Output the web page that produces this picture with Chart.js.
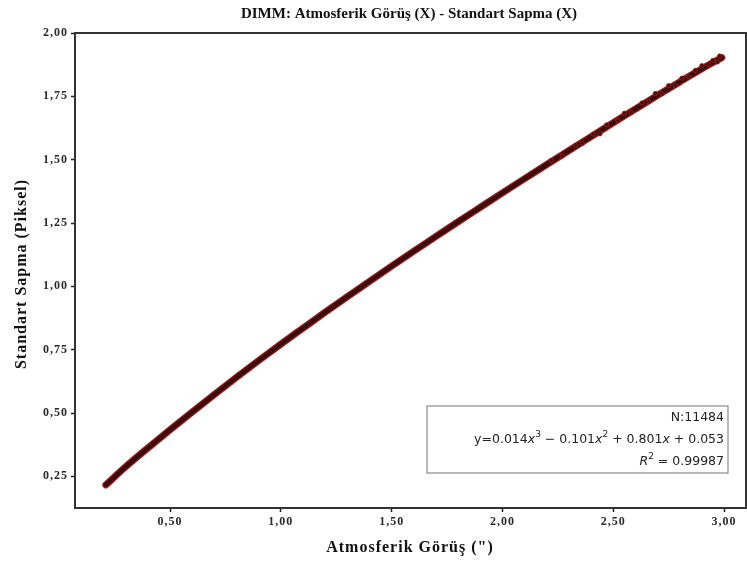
<!DOCTYPE html>
<html>
<head>
<meta charset="utf-8">
<script src="https://cdn.jsdelivr.net/npm/chart.js@4/dist/chart.umd.min.js"></script>
<style>
html,body{margin:0;padding:0;background:#fff;}
#wrap{width:747px;height:564px;}
</style>
</head>
<body>
<div id="wrap"><canvas id="c" width="747" height="564"></canvas></div>
<script>
// Main curve (seeing vs std dev)
const seeingX = [0.21,0.30,0.40,0.50,0.60,0.70,0.80,0.90,1.00,1.10,1.20,1.30,1.40,1.50,1.60,1.70,1.80,1.90,2.00,2.10,2.20,2.30,2.40,2.50,2.60,2.70,2.80,2.90,2.99];
const stdY    = [0.216,0.288,0.362,0.434,0.504,0.573,0.641,0.707,0.772,0.835,0.898,0.959,1.020,1.080,1.139,1.197,1.255,1.312,1.369,1.425,1.481,1.536,1.591,1.646,1.700,1.754,1.807,1.859,1.903];
// Scattered points in the upper part of the band
const scatterX = [2.22,2.27,2.33,2.36,2.41,2.44,2.47,2.52,2.55,2.58,2.63,2.66,2.69,2.72,2.75,2.78,2.81,2.84,2.87,2.90,2.93,2.95,2.97,2.98];
const scatterY = [1.497,1.515,1.556,1.564,1.601,1.602,1.637,1.655,1.683,1.686,1.724,1.729,1.761,1.760,1.792,1.793,1.822,1.826,1.852,1.871,1.876,1.892,1.886,1.909];
const xTicks = [0.5,1.0,1.5,2.0,2.5,3.0];
const yTicks = [0.25,0.50,0.75,1.00,1.25,1.50,1.75,2.00];
const titleText = 'DIMM: Atmosferik Görüş (X) - Standart Sapma (X)';
const xTitle = 'Atmosferik Görüş (")';
const yTitle = 'Standart Sapma (Piksel)';
const boxLines = ['N:11484'];

const mainPts = seeingX.map((x,i)=>({x:x,y:stdY[i]}));
const scatPts = scatterX.map((x,i)=>({x:x,y:scatterY[i]}));
const fmt = v => v.toFixed(2).replace('.', ',');
const noPad = function(){ return {left:0, right:0, top:0, bottom:0}; };

const decor = {
  id:'decor',
  beforeDraw(chart){ chart.ctx.letterSpacing = '1px'; },
  afterDraw(chart){
    const ctx = chart.ctx, a = chart.chartArea;
    ctx.save();
    // frame
    ctx.strokeStyle = '#333';
    ctx.lineWidth = 2;
    ctx.strokeRect(a.left, a.top, a.right - a.left, a.bottom - a.top);
    // title
    ctx.fillStyle = '#111';
    ctx.textAlign = 'center';
    ctx.textBaseline = 'middle';
    ctx.letterSpacing = '0px';
    ctx.font = 'bold 15px "Liberation Serif", serif';
    ctx.fillText(titleText, 409, 14);
    ctx.letterSpacing = '1px';
    ctx.font = 'bold 16px "Liberation Serif", serif';
    ctx.fillText(xTitle, 410, 548);
    ctx.translate(22, 274);
    ctx.rotate(-Math.PI/2);
    ctx.fillText(yTitle, 0, 0);
    ctx.restore();

    // annotation box
    ctx.save();
    ctx.letterSpacing = '0px';
    const bx = 427, by = 406, bw = 301, bh = 67;
    ctx.fillStyle = '#fff';
    ctx.fillRect(bx, by, bw, bh);
    ctx.strokeStyle = '#8a8a8a';
    ctx.lineWidth = 1.2;
    ctx.strokeRect(bx, by, bw, bh);
    ctx.fillStyle = '#222';
    ctx.textBaseline = 'alphabetic';
    const rx = bx + bw - 4;
    const normal = '12.5px "DejaVu Sans", sans-serif';
    const italic = 'italic 12.5px "DejaVu Sans", sans-serif';
    const sup = '9px "DejaVu Sans", sans-serif';
    function drawRuns(runs, y){
      let w = 0;
      runs.forEach(r=>{ctx.font = r.f; w += ctx.measureText(r.t).width;});
      let x = rx - w;
      ctx.textAlign = 'left';
      runs.forEach(r=>{ctx.font = r.f; ctx.fillText(r.t, x, y + (r.dy||0)); x += ctx.measureText(r.t).width;});
    }
    drawRuns([{t:boxLines[0], f:normal}], by + 15);
    drawRuns([
      {t:'y=0.014', f:normal},{t:'x', f:italic},{t:'3', f:sup, dy:-6},
      {t:' \u2212 0.101', f:normal},{t:'x', f:italic},{t:'2', f:sup, dy:-6},
      {t:' + 0.801', f:normal},{t:'x', f:italic},{t:' + 0.053', f:normal}
    ], by + 37);
    drawRuns([{t:'R', f:italic},{t:'2', f:sup, dy:-6},{t:' = 0.99987', f:normal}], by + 59);
    ctx.restore();
  }
};

new Chart(document.getElementById('c'), {
  type:'scatter',
  data:{datasets:[
    {data:mainPts, showLine:true, borderColor:'#9e1b1b', borderWidth:7, borderCapStyle:'round', pointRadius:0, cubicInterpolationMode:'monotone', order:3},
    {data:mainPts, showLine:true, borderColor:'#3a0c0c', borderWidth:4.5, borderCapStyle:'round', pointRadius:0, cubicInterpolationMode:'monotone', order:2},
    {data:scatPts, showLine:false, pointRadius:2.2, backgroundColor:'#4a0f0f', borderColor:'#a02020', borderWidth:0.8, order:1}
  ]},
  options:{
    responsive:false,
    animation:false,
    events:[],
    layout:{autoPadding:false, padding:{top:33, right:1, left:0, bottom:0}},
    plugins:{legend:{display:false}, tooltip:{enabled:false}, title:{display:false}},
    scales:{
      x:{
        type:'linear', min:0.071, max:3.099,
        afterBuildTicks(s){ s.ticks = xTicks.map(v=>({value:v})); },
        afterFit(s){ s.height = 56; s.paddingRight = 0; s.paddingLeft = 0; s.getPadding = noPad; },
        grid:{drawOnChartArea:false, drawTicks:true, tickLength:4, tickColor:'#222', tickWidth:1.5},
        border:{display:false},
        ticks:{callback:v=>fmt(v), color:'#2a2a2a', font:{family:'"Liberation Serif", serif', size:12, weight:'bold'}, padding:3, maxRotation:0}
      },
      y:{
        type:'linear', min:0.125, max:2.0,
        afterBuildTicks(s){ s.ticks = yTicks.map(v=>({value:v})); },
        afterFit(s){ s.width = 75; s.paddingTop = 0; s.paddingBottom = 0; s.getPadding = noPad; },
        grid:{drawOnChartArea:false, drawTicks:true, tickLength:4, tickColor:'#222', tickWidth:1.5},
        border:{display:false},
        ticks:{callback:v=>fmt(v), color:'#2a2a2a', font:{family:'"Liberation Serif", serif', size:12, weight:'bold'}, padding:3}
      }
    }
  },
  plugins:[decor]
});
</script>
</body>
</html>
